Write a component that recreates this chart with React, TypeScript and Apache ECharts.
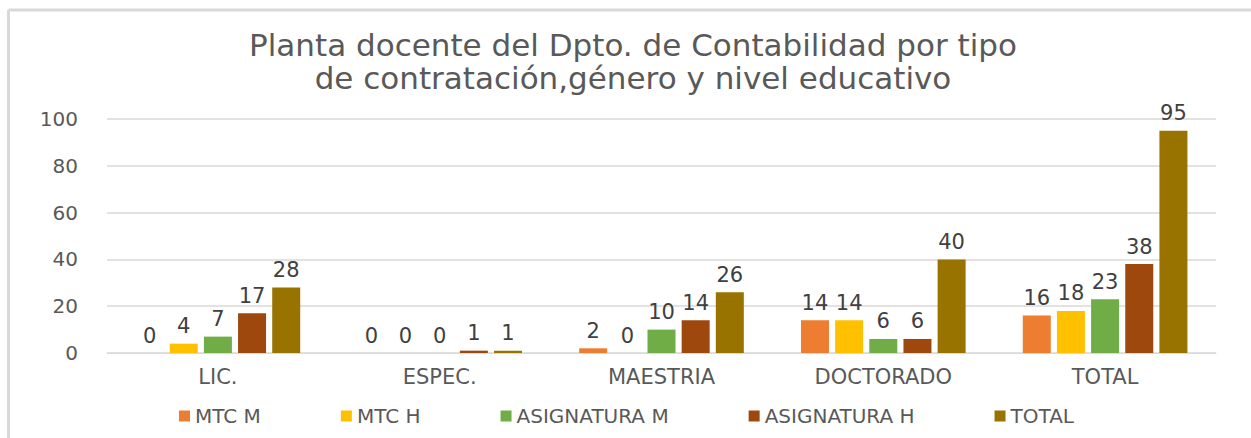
import React, { useEffect, useRef } from "react";
import * as echarts from "echarts";

const categories = ["LIC.", "ESPEC.", "MAESTRIA", "DOCTORADO", "TOTAL"];
const seriesNames = ["MTC M", "MTC H", "ASIGNATURA M", "ASIGNATURA H", "TOTAL"];
const mtcM = [0, 0, 2, 14, 16];
const mtcH = [4, 0, 0, 14, 18];
const asigM = [7, 0, 10, 6, 23];
const asigH = [17, 1, 14, 6, 38];
const total = [28, 1, 26, 40, 95];
const colors = ["#ED7D31", "#FFC000", "#70AD47", "#9E480E", "#997300"];
const titleLines = [
  "Planta docente del Dpto. de Contabilidad por tipo",
  "de contratación,género y nivel educativo",
];

export default function App() {
  const ref = useRef<HTMLDivElement>(null);
  useEffect(() => {
    document.body.style.margin = "0";
    const chart = echarts.init(ref.current!, null, { renderer: "svg" });
    const font = "DejaVu Sans";
    const values = [mtcM, mtcH, asigM, asigH, total];
    chart.setOption({
      animation: false,
      backgroundColor: "#ffffff",
      title: titleLines.map((t, i) => ({
        text: t,
        left: 633,
        textAlign: "center",
        top: 29 + i * 33,
        padding: 0,
        textStyle: {
          fontFamily: font,
          fontSize: 31,
          fontWeight: "normal",
          color: "#595959",
          lineHeight: 32,
        },
      })),
      graphic: [
        { type: "line", shape: { x1: 8.5, y1: 10, x2: 1251, y2: 10 }, style: { stroke: "#d9d9d9", lineWidth: 3 } },
        { type: "line", shape: { x1: 8.5, y1: 10, x2: 8.5, y2: 438 }, style: { stroke: "#d9d9d9", lineWidth: 3 } },
      ],
      legend: {
        data: seriesNames,
        left: 174,
        top: 401,
        icon: "rect",
        itemWidth: 11,
        itemHeight: 11,
        itemGap: 80,
        textStyle: { fontFamily: font, fontSize: 20, color: "#595959" },
      },
      grid: { left: 107, right: 35, top: 119, bottom: 85 },
      xAxis: {
        type: "category",
        data: categories,
        axisTick: { show: false },
        axisLine: { lineStyle: { color: "#d9d9d9" } },
        axisLabel: { fontFamily: font, fontSize: 21, color: "#595959", margin: 13 },
      },
      yAxis: {
        type: "value",
        min: 0,
        max: 100,
        interval: 20,
        axisLabel: { fontFamily: font, fontSize: 20, color: "#595959", margin: 29 },
        splitLine: { lineStyle: { color: "#d9d9d9", width: 1.5 } },
        axisLine: { show: false },
        axisTick: { show: false },
      },
      series: seriesNames.map((name, i) => ({
        name,
        type: "bar",
        data: values[i],
        barWidth: 28,
        barGap: "22%",
        itemStyle: { color: colors[i] },
        label: {
          show: true,
          position: "top",
          distance: 7,
          fontFamily: font,
          fontSize: 21,
          color: "#404040",
        },
      })),
    });
    return () => chart.dispose();
  }, []);
  return <div ref={ref} style={{ width: 1251, height: 438 }} />;
}
